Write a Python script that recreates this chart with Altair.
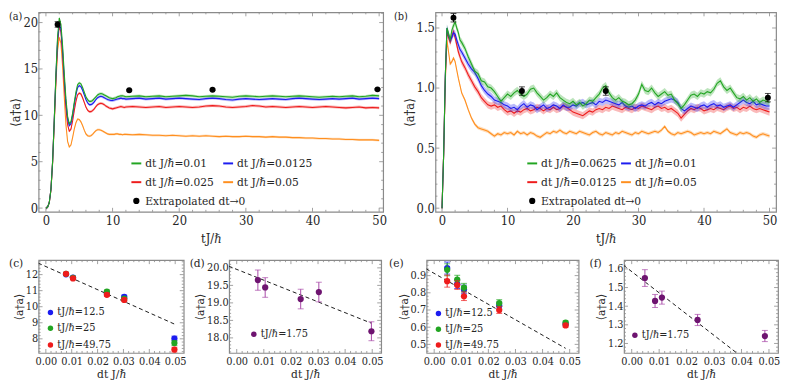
import altair as alt
import pandas as pd

FONT = "DejaVu Serif Condensed, DejaVu Serif, serif"
TXT = "#262626"
FRAME = "#8a8a8a"
GREEN, BLUE, RED, ORANGE = "#22a522", "#1c1cf0", "#ee1c1c", "#ff8f1f"
PURPLE, PURPLE_BAR = "#6e1470", "#a848a8"

# ---------------- panel (a): time series ----------------
ta = [0.25 * i for i in range(49)] + [13.0 + i for i in range(38)]
a_green = [0.0, 0.1, 0.6, 2.0, 5.0, 9.5, 14.5, 18.5, 20.5, 19.8, 17.5, 14.5, 11.8,
           9.9, 9.1, 9.3, 10.2, 11.4, 12.5, 13.3, 13.5, 13.4, 13.0, 12.5, 12.0,
           11.7, 11.5, 11.5, 11.6, 11.8, 12.0, 12.2, 12.3, 12.35, 12.3, 12.2, 12.1,
           12.0, 11.9, 11.85, 11.8, 11.85, 11.9, 12.0, 12.05, 12.1, 12.1, 12.05, 12.0,
           12.05, 12.1, 12.0, 12.05, 12.1, 12.0, 12.05, 12.1, 12.15, 12.1,
           12.0, 12.05, 12.1, 12.05, 12.0, 11.95, 12.05, 12.1, 12.05, 12.0,
           12.05, 12.1, 12.05, 12.0, 12.05, 12.1, 12.05, 12.0, 11.95, 12.0,
           12.05, 12.0, 12.05, 12.1, 12.0, 12.05, 12.15, 12.1]
a_blue = [0.0, 0.1, 0.6, 2.0, 5.0, 9.5, 14.3, 18.2, 19.9, 19.3, 17.0, 14.0, 11.4,
          9.6, 8.9, 9.1, 10.0, 11.2, 12.2, 13.0, 13.2, 13.1, 12.7, 12.2, 11.7,
          11.35, 11.15, 11.15, 11.25, 11.45, 11.7, 11.9, 12.0, 12.05, 12.0, 11.9, 11.8,
          11.7, 11.65, 11.6, 11.6, 11.65, 11.7, 11.75, 11.8, 11.85, 11.8, 11.8, 11.75,
          11.8, 11.85, 11.75, 11.8, 11.85, 11.75, 11.8, 11.85, 11.8, 11.75,
          11.7, 11.8, 11.85, 11.8, 11.7, 11.65, 11.75, 11.8, 11.75, 11.7,
          11.75, 11.8, 11.75, 11.7, 11.8, 11.85, 11.8, 11.75, 11.7, 11.75,
          11.8, 11.75, 11.8, 11.85, 11.75, 11.8, 11.85, 11.8]
a_red = [0.0, 0.1, 0.6, 2.0, 5.0, 9.4, 14.0, 17.8, 19.6, 19.0, 16.6, 13.5, 10.8,
         9.0, 8.3, 8.5, 9.4, 10.5, 11.5, 12.2, 12.4, 12.3, 11.9, 11.4, 10.9,
         10.55, 10.4, 10.4, 10.5, 10.7, 10.95, 11.15, 11.25, 11.3, 11.25, 11.15, 11.0,
         10.9, 10.8, 10.75, 10.7, 10.75, 10.8, 10.85, 10.9, 10.95, 10.9, 10.85, 10.9,
         10.95, 10.9, 10.85, 10.9, 10.95, 10.85, 10.9, 10.95, 10.9, 10.85,
         10.9, 11.0, 11.05, 11.0, 10.9, 10.85, 10.9, 10.95, 11.05, 11.0,
         10.9, 10.95, 10.9, 10.85, 10.9, 10.95, 10.9, 10.85, 10.9, 10.95,
         10.9, 10.85, 10.8, 10.85, 10.9, 10.8, 10.85, 10.8]
a_orange = [0.0, 0.1, 0.6, 1.9, 4.8, 9.0, 13.5, 17.0, 18.4, 17.8, 15.3, 12.0, 9.0,
            7.2, 6.6, 6.8, 7.6, 8.5, 9.2, 9.6, 9.55, 9.3, 8.9, 8.4, 8.0,
            7.8, 7.75, 7.8, 7.95, 8.15, 8.35, 8.45, 8.45, 8.4, 8.3, 8.2, 8.1,
            8.0, 7.95, 7.95, 7.95, 7.95, 8.0, 8.0, 7.95, 7.95, 7.9, 7.95, 7.95,
            7.9, 7.95, 7.9, 7.85, 7.85, 7.8, 7.85, 7.8, 7.75, 7.8,
            7.75, 7.8, 7.75, 7.7, 7.75, 7.7, 7.7, 7.75, 7.7, 7.7,
            7.65, 7.7, 7.65, 7.65, 7.6, 7.6, 7.55, 7.55, 7.5, 7.5,
            7.45, 7.45, 7.4, 7.4, 7.35, 7.35, 7.35, 7.3]
a_err = [0.15, 0.15, 0.15, 0.12]
a_labels = ["dt J/ℏ=0.01", "dt J/ℏ=0.0125", "dt J/ℏ=0.025", "dt J/ℏ=0.05"]
ext_a_t = [1.75, 12.5, 25.0, 49.75]
ext_a_v = [19.8, 12.7, 12.75, 12.8]
ext_a_e = [0.3, 0.08, 0.08, 0.08]

# ---------------- panel (b): time series ----------------
tb = [0.25 * i for i in range(13)] + [3.5 + 0.5 * i for i in range(94)]
b_green = [0.0, 0.45, 1.10, 1.50, 1.45, 1.40, 1.48, 1.52, 1.55, 1.50, 1.46, 1.40, 1.38,
           1.33, 1.26, 1.20, 1.14, 1.12, 1.06, 1.05, 1.01, 1.00, 0.97,
           0.93, 0.89, 0.92, 0.95, 0.93, 0.96, 0.98, 0.95, 0.93, 0.95,
           0.99, 1.00, 0.96, 0.93, 0.90, 0.92, 0.95, 0.93, 0.96, 0.92,
           0.90, 0.88, 0.87, 0.89, 0.86, 0.88, 0.85, 0.87, 0.90, 0.89,
           0.92, 0.95, 1.00, 1.02, 0.96, 0.92, 0.90, 0.92, 0.89, 0.88,
           0.86, 0.87, 0.90, 0.95, 1.03, 0.98, 0.97, 1.00, 0.96, 0.93,
           0.95, 0.97, 0.94, 0.95, 0.90, 0.87, 0.83, 0.86, 0.90, 0.94,
           0.95, 0.93, 0.96, 0.95, 0.97, 0.96, 0.99, 1.04, 1.06, 1.01,
           0.98, 1.00, 0.96, 0.92, 0.91, 0.93, 0.90, 0.92, 0.89, 0.91,
           0.88, 0.90, 0.89, 0.88]
b_blue = [0.0, 0.45, 1.10, 1.50, 1.44, 1.40, 1.42, 1.46, 1.45, 1.40, 1.36, 1.32, 1.30,
          1.25, 1.20, 1.16, 1.13, 1.08, 1.02, 0.98, 0.95, 0.93, 0.90,
          0.89, 0.88, 0.86, 0.85, 0.83, 0.84, 0.82, 0.85, 0.87, 0.84,
          0.86, 0.85, 0.82, 0.84, 0.86, 0.83, 0.84, 0.86, 0.85, 0.83,
          0.86, 0.84, 0.84, 0.86, 0.85, 0.87, 0.88, 0.86, 0.87, 0.88,
          0.86, 0.89, 0.88, 0.90, 0.89, 0.88, 0.87, 0.86, 0.88, 0.85,
          0.84, 0.85, 0.83, 0.85, 0.86, 0.85, 0.87, 0.88, 0.86, 0.88,
          0.87, 0.89, 0.90, 0.91, 0.90, 0.88, 0.83, 0.81, 0.83, 0.85,
          0.84, 0.83, 0.85, 0.86, 0.84, 0.86, 0.87, 0.85, 0.86, 0.84,
          0.85, 0.86, 0.84, 0.86, 0.88, 0.90, 0.88, 0.87, 0.89, 0.86,
          0.87, 0.86, 0.85, 0.85]
b_red = [0.0, 0.45, 1.08, 1.47, 1.42, 1.38, 1.43, 1.47, 1.42, 1.36, 1.30, 1.26, 1.22,
         1.17, 1.11, 1.06, 1.01, 0.97, 0.92, 0.89, 0.86, 0.85, 0.86,
         0.84, 0.85, 0.82, 0.80, 0.81, 0.79, 0.81, 0.80, 0.82, 0.83,
         0.81, 0.82, 0.84, 0.83, 0.81, 0.83, 0.82, 0.84, 0.82, 0.83,
         0.85, 0.84, 0.82, 0.80, 0.79, 0.78, 0.77, 0.79, 0.81, 0.80,
         0.82, 0.83, 0.82, 0.84, 0.83, 0.85, 0.84, 0.83, 0.82, 0.84,
         0.83, 0.82, 0.84, 0.83, 0.85, 0.84, 0.83, 0.82, 0.84, 0.85,
         0.83, 0.84, 0.82, 0.83, 0.81, 0.79, 0.75, 0.78, 0.81, 0.83,
         0.82, 0.84, 0.83, 0.81, 0.82, 0.83, 0.82, 0.84, 0.83, 0.82,
         0.84, 0.85, 0.83, 0.84, 0.82, 0.84, 0.83, 0.85, 0.83, 0.82,
         0.83, 0.82, 0.81, 0.80]
b_orange = [0.0, 0.45, 1.05, 1.40, 1.30, 1.20, 1.22, 1.25, 1.22, 1.15, 1.08, 1.02, 0.96,
            0.90, 0.82, 0.75, 0.70, 0.67, 0.66, 0.65, 0.64, 0.62, 0.60,
            0.62, 0.61, 0.63, 0.62, 0.63, 0.61, 0.64, 0.62, 0.63, 0.61,
            0.63, 0.62, 0.60, 0.59, 0.61, 0.63, 0.62, 0.64, 0.63, 0.65,
            0.63, 0.62, 0.64, 0.63, 0.62, 0.64, 0.63, 0.62, 0.61, 0.63,
            0.64, 0.62, 0.61, 0.63, 0.62, 0.61, 0.63, 0.62, 0.64, 0.63,
            0.62, 0.61, 0.63, 0.62, 0.64, 0.63, 0.62, 0.63, 0.64, 0.63,
            0.65, 0.68, 0.64, 0.62, 0.61, 0.63, 0.62, 0.63, 0.64, 0.63,
            0.61, 0.62, 0.63, 0.62, 0.63, 0.62, 0.64, 0.63, 0.62, 0.64,
            0.66, 0.63, 0.62, 0.61, 0.63, 0.62, 0.63, 0.62, 0.60, 0.59,
            0.61, 0.62, 0.61, 0.60]
b_err = [0.03, 0.03, 0.03, 0.015]
b_labels = ["dt J/ℏ=0.0625", "dt J/ℏ=0.01", "dt J/ℏ=0.0125", "dt J/ℏ=0.05"]
ext_b_t = [1.75, 12.2, 25.0, 49.75]
ext_b_v = [1.585, 0.975, 0.975, 0.92]
ext_b_e = [0.035, 0.035, 0.035, 0.035]

# ---------------- bottom panels: extrapolation fits ----------------
dt_cd = [0.0078, 0.0105, 0.0236, 0.0303, 0.0497]
c_blue = [12.02, 11.82, 10.82, 10.62, 8.02]
c_green = [12.05, 11.80, 10.94, 10.50, 7.74]
c_red = [12.05, 11.76, 10.74, 10.42, 7.33]
c_err = [0.08, 0.08, 0.10, 0.10, 0.15]
c_fit_x = [-0.003, 0.0497]
c_fit_y = [12.72, 8.92]

d_val = [19.65, 19.44, 19.11, 19.31, 18.19]
d_err = [0.29, 0.28, 0.28, 0.28, 0.27]
d_fit_x = [-0.003, 0.0497]
d_fit_y = [20.05, 18.42]

dt_ef = [0.0048, 0.0085, 0.011, 0.024, 0.0485]
e_blue = [0.944, 0.850, 0.820, 0.725, 0.618]
e_green = [0.934, 0.877, 0.830, 0.740, 0.626]
e_red = [0.868, 0.845, 0.780, 0.700, 0.610]
e_err = [0.035, 0.025, 0.025, 0.02, 0.01]
e_fit_x = [-0.003, 0.0485]
e_fit_y = [0.94, 0.477]

f_val = [1.551, 1.428, 1.446, 1.326, 1.240]
f_err = [0.045, 0.035, 0.035, 0.030, 0.030]
f_fit_x = [-0.003, 0.05]
f_fit_y = [1.62, 1.015]

legend_t = ["tJ/ℏ=12.5", "tJ/ℏ=25", "tJ/ℏ=49.75"]


# ---------------- helpers ----------------
def one(text=""):
    return pd.DataFrame({"s": [text]})


def label(text, x, y, size=12, align="left", baseline="middle"):
    return alt.Chart(one(text)).mark_text(
        font=FONT, fontSize=size, color=TXT, align=align, baseline=baseline
    ).encode(x=alt.value(x), y=alt.value(y), text="s:N")


def swatch(x1, x2, y, color):
    return alt.Chart(one()).mark_rule(color=color, strokeWidth=2).encode(
        x=alt.value(x1), x2=alt.value(x2), y=alt.value(y))


def dot(x, y, color, size=36):
    return alt.Chart(one()).mark_circle(color=color, size=size, opacity=1).encode(
        x=alt.value(x), y=alt.value(y))


def make_axes(xdom, ydom, xvals, yvals, xfmt, yfmt, xtitle, ytitle, lsize, tsize,
              xtpad):
    xs = alt.Scale(domain=xdom, nice=False, zero=False)
    ys = alt.Scale(domain=ydom, nice=False, zero=False)
    common = dict(grid=False, ticks=False, domain=False, labelFont=FONT,
                  labelFontSize=lsize, labelColor=TXT, labelFlush=False,
                  labelOverlap=False, titleFont=FONT, titleFontSize=tsize,
                  titleFontWeight="normal", titleColor=TXT)
    xa = alt.Axis(values=xvals, format=xfmt, title=xtitle, labelPadding=3,
                  titlePadding=xtpad, **common)
    ya = alt.Axis(values=yvals, format=yfmt, title=ytitle, labelPadding=1,
                  titlePadding=0, **common)

    def X(f):
        return alt.X(f, type="quantitative", scale=xs, axis=xa)

    def Y(f):
        return alt.Y(f, type="quantitative", scale=ys, axis=ya)
    return X, Y


def frame_ticks(X, Y, w, h, xmaj, xmin, ymaj, ymin):
    out = []
    for vals, ln in ((xmaj, 4), (xmin, 2)):
        df = pd.DataFrame({"x": vals})
        out.append(alt.Chart(df).mark_rule(color=FRAME, strokeWidth=0.8)
                   .encode(x=X("x"), y=alt.value(h), y2=alt.value(h - ln)))
        out.append(alt.Chart(df).mark_rule(color=FRAME, strokeWidth=0.8)
                   .encode(x=X("x"), y=alt.value(0), y2=alt.value(ln)))
    for vals, ln in ((ymaj, 4), (ymin, 2)):
        df = pd.DataFrame({"y": vals})
        out.append(alt.Chart(df).mark_rule(color=FRAME, strokeWidth=0.8)
                   .encode(y=Y("y"), x=alt.value(0), x2=alt.value(ln)))
        out.append(alt.Chart(df).mark_rule(color=FRAME, strokeWidth=0.8)
                   .encode(y=Y("y"), x=alt.value(w), x2=alt.value(w - ln)))
    return out


def minor(lo, hi, step, majors):
    n = int(round((hi - lo) / step))
    vals = [round(lo + i * step, 6) for i in range(n + 1)]
    return [v for v in vals if all(abs(v - m) > step / 4 for m in majors)]


def errbars(df, X, Y, color, cap):
    rule = alt.Chart(df).mark_rule(color=color, strokeWidth=1).encode(
        x=X("x"), y=Y("lo"), y2=alt.Y2("hi"))
    lo = alt.Chart(df).mark_tick(color=color, orient="horizontal", size=cap,
                                 thickness=1).encode(x=X("x"), y=Y("lo"))
    hi = alt.Chart(df).mark_tick(color=color, orient="horizontal", size=cap,
                                 thickness=1).encode(x=X("x"), y=Y("hi"))
    return [rule, lo, hi]


def pts(x, v, e):
    return pd.DataFrame({"x": x, "v": v,
                         "lo": [a - b for a, b in zip(v, e)],
                         "hi": [a + b for a, b in zip(v, e)]})


def top_panel(t, series, ext, xdom, ydom, yvals, yfmt, ymin_ticks, w, h,
              tag, tag_x, leg):
    xmaj = [0, 10, 20, 30, 40, 50]
    X, Y = make_axes(xdom, ydom, xmaj, yvals, "d", yfmt,
                     "tJ/ℏ", "⟨a†a⟩", 13, 13, 5)
    layers = frame_ticks(X, Y, w, h, xmaj, minor(0, 50, 2, xmaj), yvals, ymin_ticks)
    for vals, color, err in series:
        df = pd.DataFrame({"x": t[:len(vals)], "v": vals})
        df["lo"] = df["v"] - err
        df["hi"] = df["v"] + err
        layers.append(alt.Chart(df).mark_area(color=color, opacity=0.3, clip=True)
                      .encode(x=X("x"), y=Y("lo"), y2=alt.Y2("hi")))
        layers.append(alt.Chart(df).mark_line(color=color, strokeWidth=1.1, clip=True)
                      .encode(x=X("x"), y=Y("v")))
    edf = pts(*ext)
    layers += errbars(edf, X, Y, "black", 6)
    layers.append(alt.Chart(edf).mark_circle(color="black", size=36, opacity=1)
                  .encode(x=X("x"), y=Y("v")))
    # legend
    cols, rows, labels, colors = leg
    for i, (lab, col) in enumerate(zip(labels, colors)):
        cx = cols[i % 2]
        ry = rows[i // 2]
        layers.append(swatch(cx, cx + 10, ry, col))
        layers.append(label(lab, cx + 14, ry))
    layers.append(dot(cols[0] + 5, rows[2], "black", 40))
    layers.append(label("Extrapolated dt→0", cols[0] + 14, rows[2]))
    layers.append(label(tag, tag_x, -1, size=11, baseline="top"))
    return alt.layer(*layers).properties(width=w, height=h)


def bottom_panel(xs_vals, groups, fit, ydom, yvals, yfmt, ystep, w, h, tag, tag_x,
                 leg_x, leg_rows, leg_labels):
    xmaj = [0, 0.01, 0.02, 0.03, 0.04, 0.05]
    X, Y = make_axes([-0.0028, 0.0533], ydom, xmaj,
                     yvals, ".2f", yfmt, "dt J/ℏ", "⟨a†a⟩", 11, 12, 2)
    ymn = minor(yvals[0] - 4 * ystep, yvals[-1] + 4 * ystep, ystep, yvals)
    ymn = [v for v in ymn if ydom[0] < v < ydom[1]]
    layers = frame_ticks(X, Y, w, h, xmaj, minor(0, 0.05, 0.002, xmaj), yvals, ymn)
    fdf = pd.DataFrame({"x": fit[0], "v": fit[1]})
    layers.append(alt.Chart(fdf).mark_line(color="#1a1a1a", strokeWidth=1,
                                           strokeDash=[4, 3], clip=True)
                  .encode(x=X("x"), y=Y("v")))
    for vals, err, pcolor, bcolor in groups:
        df = pts(xs_vals, vals, err)
        layers += errbars(df, X, Y, bcolor, 6)
        layers.append(alt.Chart(df).mark_circle(color=pcolor, size=40, opacity=1)
                      .encode(x=X("x"), y=Y("v")))
    for i, lab in enumerate(leg_labels):
        layers.append(dot(leg_x, leg_rows[i], groups[i][2], 30))
        layers.append(label(lab, leg_x + 7, leg_rows[i], size=11))
    layers.append(label(tag, tag_x, 3, size=12))
    return alt.layer(*layers).properties(width=w, height=h)


TOP_H = 202
BOT_H = 94

pa = top_panel(ta,
               [(a_orange, ORANGE, a_err[3]), (a_red, RED, a_err[2]),
                (a_blue, BLUE, a_err[1]), (a_green, GREEN, a_err[0])],
               (ext_a_t, ext_a_v, ext_a_e), [-1.1, 50.6], [-0.4, 21.1],
               [0, 5, 10, 15, 20], "d", minor(0, 21, 1, [0, 5, 10, 15, 20]),
               349, TOP_H, "(a)", -30,
               ([94, 187], [153, 172, 191], a_labels, [GREEN, BLUE, RED, ORANGE]))

pb = top_panel(tb,
               [(b_orange, ORANGE, b_err[3]), (b_red, RED, b_err[2]),
                (b_blue, BLUE, b_err[1]), (b_green, GREEN, b_err[0])],
               (ext_b_t, ext_b_v, ext_b_e), [-1.0, 51.0], [-0.03, 1.63],
               [0.0, 0.5, 1.0, 1.5], ".1f", minor(0, 1.6, 0.1, [0.0, 0.5, 1.0, 1.5]),
               345, TOP_H, "(b)", -42,
               ([93, 188], [153, 172, 191], b_labels, [GREEN, BLUE, RED, ORANGE]))

pc = bottom_panel(dt_cd,
                  [(c_blue, c_err, BLUE, BLUE), (c_green, c_err, GREEN, GREEN),
                   (c_red, c_err, RED, RED)],
                  (c_fit_x, c_fit_y), [7.12, 12.9], [8, 9, 10, 11, 12], "d", 0.2,
                  147, BOT_H, "(c)", -30, 12, [53, 69, 86], legend_t)

pd_ = bottom_panel(dt_cd, [(d_val, d_err, PURPLE, PURPLE_BAR)],
                   (d_fit_x, d_fit_y), [17.57, 20.22],
                   [18.0, 18.5, 19.0, 19.5, 20.0], ".1f", 0.1,
                   154, BOT_H, "(d)", -40, 25, [75], ["tJ/ℏ=1.75"])

pe = bottom_panel(dt_ef,
                  [(e_blue, e_err, BLUE, BLUE), (e_green, e_err, GREEN, GREEN),
                   (e_red, e_err, RED, RED)],
                  (e_fit_x, e_fit_y), [0.45, 0.99], [0.5, 0.6, 0.7, 0.8, 0.9], ".1f",
                  0.02, 154, BOT_H, "(e)", -38, 12, [54, 70, 86], legend_t)

pf = bottom_panel(dt_ef, [(f_val, f_err, PURPLE, PURPLE_BAR)],
                  (f_fit_x, f_fit_y), [1.149, 1.647], [1.2, 1.3, 1.4, 1.5, 1.6], ".1f",
                  0.02, 156, BOT_H, "(f)", -35, 11, [76], ["tJ/ℏ=1.75"])

top = alt.hconcat(pa, pb, spacing=53, bounds="flush")
bottom = alt.hconcat(pc, pd_, pe, pf, spacing=46, bounds="flush")

chart = (alt.vconcat(top, bottom, spacing=10)
         .properties(padding=0, background="white")
         .configure_view(stroke=FRAME, strokeWidth=1.2))

chart.save("out.html", embed_options={"renderer": "svg", "actions": False})
